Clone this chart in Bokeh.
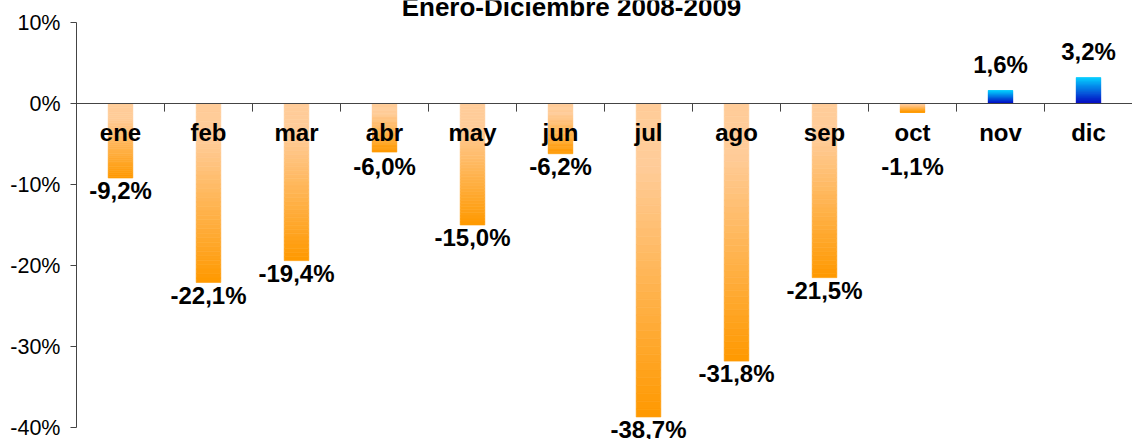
from bokeh.plotting import figure
from bokeh.models import (Range1d, FixedTicker, Span, Label, LabelSet, ColumnDataSource)
from bokeh.core.properties import value
from bokeh.embed import file_html
from bokeh.resources import INLINE

# ---- data ----
months = ["ene", "feb", "mar", "abr", "may", "jun", "jul", "ago", "sep", "oct", "nov", "dic"]
values = [-9.2, -22.1, -19.4, -6.0, -15.0, -6.2, -38.7, -31.8, -21.5, -1.1, 1.6, 3.2]
value_labels = ["-9,2%", "-22,1%", "-19,4%", "-6,0%", "-15,0%", "-6,2%", "-38,7%",
                "-31,8%", "-21,5%", "-1,1%", "1,6%", "3,2%"]
y_ticks = [-40, -30, -20, -10, 0, 10]
y_tick_labels = ["-40%", "-30%", "-20%", "-10%", "0%", "10%"]
title_text = "Enero-Diciembre 2008-2009"

FONT = "Liberation Sans"

# layout: the frame fills the canvas height; the axis itself is bounded to -40..10
W, H = 1132, 439
TOP_PX = 22          # pixel position of the 10% tick
PX_PER_UNIT = 8.1    # pixels per percentage point
y_hi = max(y_ticks) + TOP_PX / PX_PER_UNIT
y_lo = max(y_ticks) - (H - TOP_PX) / PX_PER_UNIT

p = figure(width=W, height=H, output_backend="svg", toolbar_location=None,
           x_range=Range1d(0, len(months)), y_range=Range1d(y_lo, y_hi),
           x_axis_location=None, min_border_left=76, min_border_right=0,
           min_border_top=0, min_border_bottom=0)
p.outline_line_color = None
p.grid.visible = False
p.background_fill_color = "white"
p.border_fill_color = "white"

yax = p.yaxis[0]
yax.bounds = (min(y_ticks), max(y_ticks))
yax.ticker = FixedTicker(ticks=y_ticks)
yax.major_label_overrides = {t: l for t, l in zip(y_ticks, y_tick_labels)}
yax.major_label_text_font = FONT
yax.major_label_text_font_size = "21.5px"
yax.major_label_text_color = "black"
yax.major_label_standoff = 10
yax.major_tick_out = 6
yax.major_tick_in = 0
yax.minor_tick_line_color = None
yax.axis_line_color = "#444444"
yax.major_tick_line_color = "#444444"


def lerp(c1, c2, t):
    a = [int(c1[i:i + 2], 16) for i in (1, 3, 5)]
    b = [int(c2[i:i + 2], 16) for i in (1, 3, 5)]
    return "#%02x%02x%02x" % tuple(round(a[k] + (b[k] - a[k]) * t) for k in range(3))


# gradient bars built from the data
N = 40
bw = 0.28
left, right, top, bottom, colors = [], [], [], [], []
for i, v in enumerate(values):
    if v < 0:
        c_start, c_end = "#ffcc99", "#ff9900"
    else:
        c_start, c_end = "#0000c0", "#00ccff"
    for k in range(N):
        y0 = v * k / N
        y1 = v * (k + 1) / N
        t = (k + 0.5) / N
        if v < 0:
            t = max(0.0, (t - 0.2) / 0.8)
        left.append(i + 0.5 - bw / 2)
        right.append(i + 0.5 + bw / 2)
        top.append(max(y0, y1))
        bottom.append(min(y0, y1))
        colors.append(lerp(c_start, c_end, t))
p.quad(left=left, right=right, top=top, bottom=bottom, fill_color=colors,
       line_color=colors, line_width=0.6)

# zero line and category ticks
p.add_layout(Span(location=0, dimension="width", line_color="#444444", line_width=1))
p.segment(x0=list(range(1, len(months))), y0=[0] * (len(months) - 1),
          x1=list(range(1, len(months))), y1=[-1.0] * (len(months) - 1),
          line_color="#444444", line_width=1)

# category labels
cat_src = ColumnDataSource(dict(x=[i + 0.5 for i in range(len(months))],
                                y=[0] * len(months), t=months))
p.add_layout(LabelSet(x="x", y="y", text="t", source=cat_src, y_offset=-37,
                      text_align="center", text_baseline="alphabetic",
                      text_font=value(FONT), text_font_style="bold",
                      text_font_size="24px", text_color="black"))

# value labels (negative labels kept below the category names)
label_y = [min(v, -6.2) if v < 0 else v for v in values]
offs = [-21 if v < 0 else 18 for v in values]
val_src = ColumnDataSource(dict(x=[i + 0.5 for i in range(len(values))], y=label_y,
                                t=value_labels, o=offs))
p.add_layout(LabelSet(x="x", y="y", text="t", source=val_src, y_offset="o",
                      text_align="center", text_baseline="alphabetic",
                      text_font=value(FONT), text_font_style="bold",
                      text_font_size="24px", text_color="black"))

# title (partly cut off at the top, as in the original)
p.add_layout(Label(x=len(months) / 2, y=max(y_ticks), x_offset=-33, y_offset=16,
                   text=title_text, text_align="center", text_baseline="alphabetic",
                   text_font=FONT, text_font_style="bold", text_font_size="26px",
                   text_color="black"))

open("out.html", "w").write(file_html(p, INLINE))
